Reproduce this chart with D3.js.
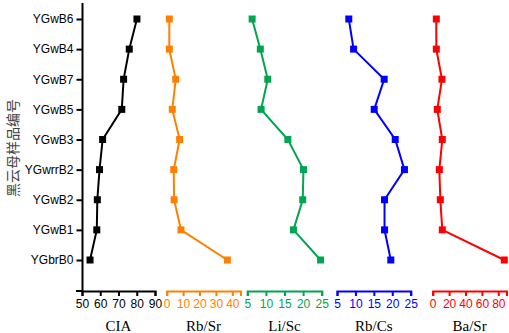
<!DOCTYPE html>
<html>
<head>
<meta charset="utf-8">
<script src="https://cdn.jsdelivr.net/npm/d3@7"></script>
<style>
  body { margin: 0; background: #fff; }
  .tick text { font-family: "Liberation Sans", Arial, sans-serif; }
  .title { font-family: "Liberation Serif", "Times New Roman", serif; font-size: 15px; }
</style>
</head>
<body>
<div id="chart"></div>
<script>
// sample names, top to bottom
var samples = ["YGwB6", "YGwB4", "YGwB7", "YGwB5", "YGwB3", "YGwrrB2", "YGwB2", "YGwB1", "YGbrB0"];

// values in the same order as samples
var cia  = [80.1, 75.9, 72.8, 71.8, 61.3, 59.6, 58.4, 58.1, 54.4];
var rbSr = [1.6, 1.6, 5.5, 3.4, 7.9, 4.3, 4.5, 8.7, 37.0];
var liSc = [6.3, 8.5, 10.5, 8.7, 15.9, 20.1, 19.9, 17.4, 24.7];
var rbCs = [8.2, 9.5, 17.8, 15.1, 20.8, 23.3, 17.9, 17.9, 19.6];
var baSr = [4.4, 4.4, 11.3, 5.6, 11.7, 8.1, 9.3, 11.7, 87.3];

var ciaTicks  = [50, 60, 70, 80, 90];
var rbSrTicks = [0, 10, 20, 30, 40];
var liScTicks = [5, 10, 15, 20, 25];
var rbCsTicks = [5, 10, 15, 20, 25];
var baSrTicks = [0, 20, 40, 60, 80];

var svgWidth = 509, svgHeight = 333;
var axisY = 291;

var svg = d3.select("#chart")
  .append("svg")
  .attr("width", svgWidth)
  .attr("height", svgHeight);

var y = d3.scalePoint()
  .domain(samples)
  .range([19, 260]);

// panels: one per ratio, each with its own bottom axis
var panels = [
  {name: "CIA",   values: cia,  ticks: ciaTicks,  domain: [50, 90], range: [82, 155],    color: "#000000"},
  {name: "Rb/Sr", values: rbSr, ticks: rbSrTicks, domain: [0, 45],  range: [166.7, 240.5], color: "#ff8000"},
  {name: "Li/Sc", values: liSc, ticks: liScTicks, domain: [5, 25],  range: [247.3, 321.7], color: "#00a550"},
  {name: "Rb/Cs", values: rbCs, ticks: rbCsTicks, domain: [5, 25],  range: [337, 410.7],  color: "#0000ff"},
  {name: "Ba/Sr", values: baSr, ticks: baSrTicks, domain: [0, 90],  range: [432.7, 506.5], color: "#ff0000"}
];

// left axis with sample names
var leftAxis = d3.axisLeft(y).tickSize(6).tickPadding(3);
var gy = svg.append("g")
  .attr("transform", "translate(82.5,0)")
  .call(leftAxis);
gy.select(".domain").remove();
gy.selectAll(".tick line").attr("stroke-width", 2);
gy.selectAll(".tick text").attr("font-size", "12px").attr("fill", "#000");
gy.append("line")
  .attr("x1", 0).attr("x2", 0)
  .attr("y1", 3).attr("y2", axisY)
  .attr("stroke", "#000")
  .attr("stroke-width", 2);

// y label
svg.append("text")
  .attr("transform", "translate(18,148) rotate(-90)")
  .attr("text-anchor", "middle")
  .attr("font-family", "Noto Sans CJK SC")
  .attr("font-size", "14px")
  .attr("fill", "#444")
  .text("黑云母样品编号");

panels.forEach(function(p) {
  var x = d3.scaleLinear().domain(p.domain).range(p.range);

  var bottomAxis = d3.axisBottom(x)
    .tickValues(p.ticks)
    .tickSizeInner(5)
    .tickSizeOuter(5)
    .tickPadding(3);

  var gx = svg.append("g")
    .attr("transform", `translate(0,${axisY})`)
    .call(bottomAxis);
  gx.select(".domain").attr("stroke", p.color).attr("stroke-width", 2);
  gx.selectAll(".tick line").attr("stroke", p.color).attr("stroke-width", 2);
  gx.selectAll(".tick text")
    .attr("fill", p.color)
    .attr("font-size", "12px");

  // axis title
  svg.append("text")
    .attr("class", "title")
    .attr("x", (p.range[0] + p.range[1]) / 2)
    .attr("y", 331)
    .attr("text-anchor", "middle")
    .attr("fill", "#000")
    .text(p.name);

  var pts = samples.map(function(s, i) { return {s: s, v: p.values[i]}; });

  var line = d3.line()
    .x(d => x(d.v))
    .y(d => y(d.s));

  svg.append("path")
    .datum(pts)
    .attr("d", line)
    .attr("fill", "none")
    .attr("stroke", p.color)
    .attr("stroke-width", 2);

  svg.selectAll(null)
    .data(pts)
    .enter()
    .append("rect")
    .attr("x", d => x(d.v) - 3.5)
    .attr("y", d => y(d.s) - 3.5)
    .attr("width", 7)
    .attr("height", 7)
    .attr("fill", p.color);
});

// CIA axis line runs a bit left of the sample axis
svg.append("line")
  .attr("x1", 76).attr("x2", 83)
  .attr("y1", axisY).attr("y2", axisY)
  .attr("stroke", "#000")
  .attr("stroke-width", 2);
</script>
</body>
</html>
